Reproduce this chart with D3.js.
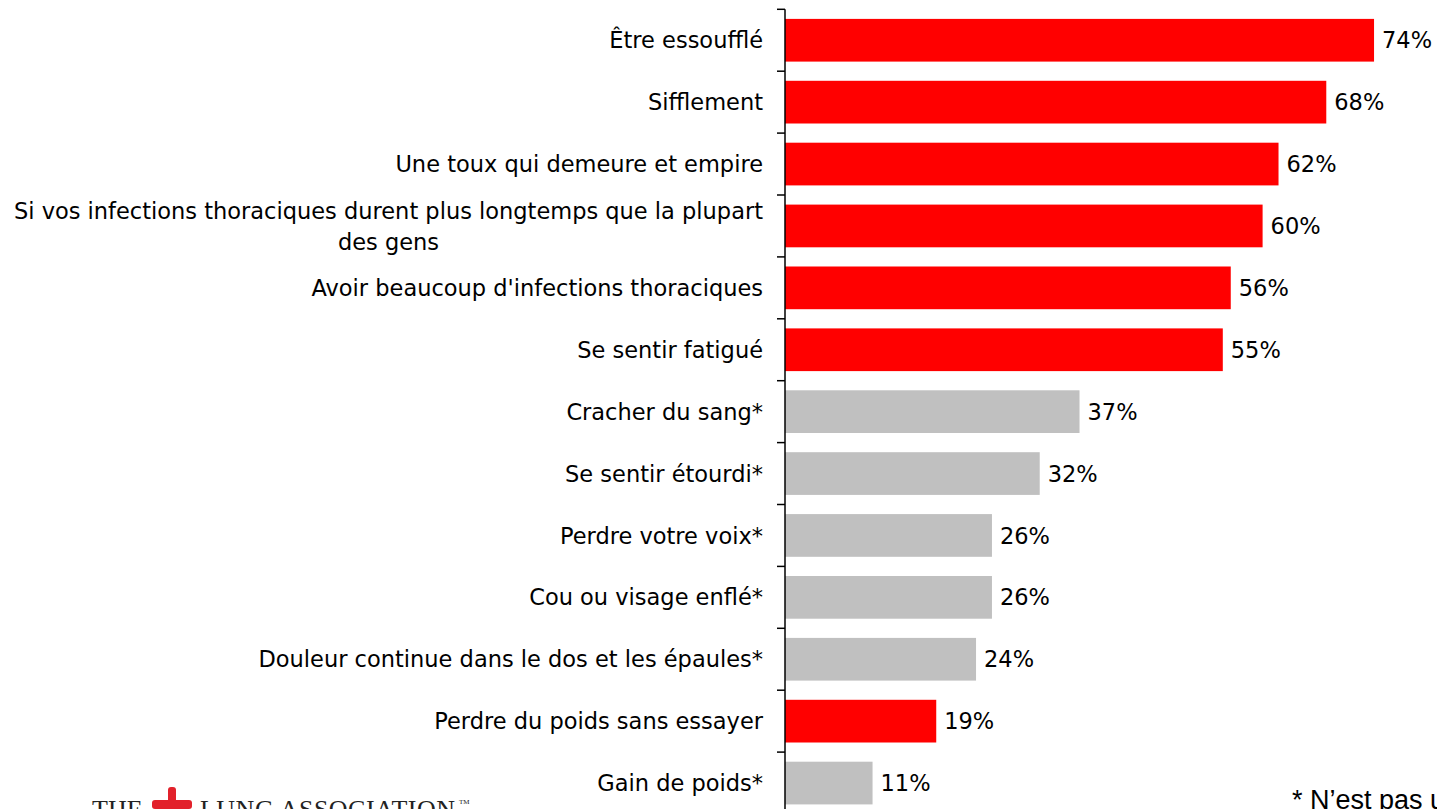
<!DOCTYPE html>
<html lang="fr">
<head>
    <meta charset="UTF-8">
    <title>Symptômes</title>
    <script src="https://d3js.org/d3.v7.min.js"></script>
    <style>
        body {
            margin: 0;
            padding: 0;
            background: #fff;
            overflow: hidden;
        }
        svg {
            display: block;
        }
        .lbl, .val {
            font-family: "DejaVu Sans", sans-serif;
            font-size: 22.5px;
            fill: #000;
        }
        .logo {
            font-family: "Liberation Serif", serif;
            fill: #222;
        }
    </style>
</head>
<body>
    <svg id="chart"></svg>

    <script>
        const width = 1437;
        const height = 809;

        // symptoms, top to bottom
        const labels = [
            ["Être essoufflé"],
            ["Sifflement"],
            ["Une toux qui demeure et empire"],
            ["Si vos infections thoraciques durent plus longtemps que la plupart", "des gens"],
            ["Avoir beaucoup d'infections thoraciques"],
            ["Se sentir fatigué"],
            ["Cracher du sang*"],
            ["Se sentir étourdi*"],
            ["Perdre votre voix*"],
            ["Cou ou visage enflé*"],
            ["Douleur continue dans le dos et les épaules*"],
            ["Perdre du poids sans essayer"],
            ["Gain de poids*"]
        ];
        const values = [74, 68, 62, 60, 56, 55, 37, 32, 26, 26, 24, 19, 11];
        // true = real lung symptom (red), false = not a symptom (grey)
        const isSymptom = [true, true, true, true, true, true, false, false, false, false, false, true, false];

        const data = labels.map((l, i) => ({ id: i, lines: l, value: values[i], symptom: isSymptom[i] }));

        const axisX = 785;
        const inner = 0.31;

        const svg = d3.select("#chart")
            .attr("width", width)
            .attr("height", height);

        const y = d3.scaleBand()
            .domain(data.map(d => d.id))
            .range([9.3, 9.3 + 13 * 61.9])
            .paddingInner(inner)
            .paddingOuter(inner / 2);

        const x = d3.scaleLinear()
            .domain([0, 100])
            .range([axisX, axisX + 796]);

        // bars
        svg.append("g")
            .selectAll("rect")
            .data(data)
            .enter().append("rect")
            .attr("x", x(0))
            .attr("y", d => y(d.id))
            .attr("width", d => x(d.value) - x(0))
            .attr("height", y.bandwidth())
            .attr("fill", d => d.symptom ? "#ff0000" : "#c0c0c0");

        // value labels
        svg.append("g")
            .selectAll("text")
            .data(data)
            .enter().append("text")
            .attr("class", "val")
            .attr("x", d => x(d.value) + 8)
            .attr("y", d => y(d.id) + y.bandwidth() / 2)
            .attr("dy", "0.36em")
            .text(d => d.value + "%");

        // axis line and ticks at band boundaries
        const half = y.step() * inner / 2;
        const bounds = data.map(d => y(d.id) - half).concat([y(data.length - 1) + y.bandwidth() + half]);
        const axis = svg.append("g").attr("stroke", "#000").attr("stroke-width", 1.5);
        axis.append("line")
            .attr("x1", axisX).attr("x2", axisX)
            .attr("y1", bounds[0]).attr("y2", height + 5);
        axis.selectAll(".tick")
            .data(bounds)
            .enter().append("line")
            .attr("x1", axisX - 8).attr("x2", axisX)
            .attr("y1", b => b).attr("y2", b => b);

        // category labels
        const labelRight = 763;
        const cat = svg.append("g")
            .selectAll("g")
            .data(data)
            .enter().append("g");

        cat.each(function (d) {
            const g = d3.select(this);
            const cy = y(d.id) + y.bandwidth() / 2;
            if (d.lines.length === 1) {
                g.append("text")
                    .attr("class", "lbl")
                    .attr("x", labelRight)
                    .attr("y", cy)
                    .attr("dy", "0.36em")
                    .attr("text-anchor", "end")
                    .text(d.lines[0]);
            } else {
                // wrapped label: lines centred on the first line
                const first = g.append("text")
                    .attr("class", "lbl")
                    .attr("x", labelRight)
                    .attr("y", cy - 15.5)
                    .attr("dy", "0.36em")
                    .attr("text-anchor", "end")
                    .text(d.lines[0]);
                const w = first.node().getComputedTextLength();
                first.attr("text-anchor", "middle").attr("x", labelRight - w / 2);
                g.append("text")
                    .attr("class", "lbl")
                    .attr("x", labelRight - w / 2)
                    .attr("y", cy + 15.5)
                    .attr("dy", "0.36em")
                    .attr("text-anchor", "middle")
                    .text(d.lines[1]);
            }
        });

        // footnote (runs off the right edge)
        svg.append("text")
            .attr("x", 1292)
            .attr("y", 809)
            .style("font-family", "Arial, 'Liberation Sans', sans-serif")
            .style("font-size", "27px")
            .text("* N’est pas un symptôme");

        // logo, cut by the bottom edge
        const logo = svg.append("g");
        logo.append("text")
            .attr("class", "logo")
            .attr("x", 92)
            .attr("y", 818)
            .style("font-size", "26px")
            .text("THE");
        logo.append("rect")
            .attr("x", 168).attr("y", 787)
            .attr("width", 8).attr("height", 30)
            .attr("rx", 3)
            .attr("fill", "#e2212b");
        logo.append("rect")
            .attr("x", 152).attr("y", 800)
            .attr("width", 40).attr("height", 9)
            .attr("rx", 3)
            .attr("fill", "#e2212b");
        logo.append("text")
            .attr("class", "logo")
            .attr("x", 200)
            .attr("y", 818)
            .style("font-size", "26px")
            .attr("textLength", 255)
            .text("LUNG ASSOCIATION");
        logo.append("text")
            .attr("class", "logo")
            .attr("x", 200 + 259)
            .attr("y", 804)
            .style("font-size", "7px")
            .text("TM");
    </script>
</body>
</html>
